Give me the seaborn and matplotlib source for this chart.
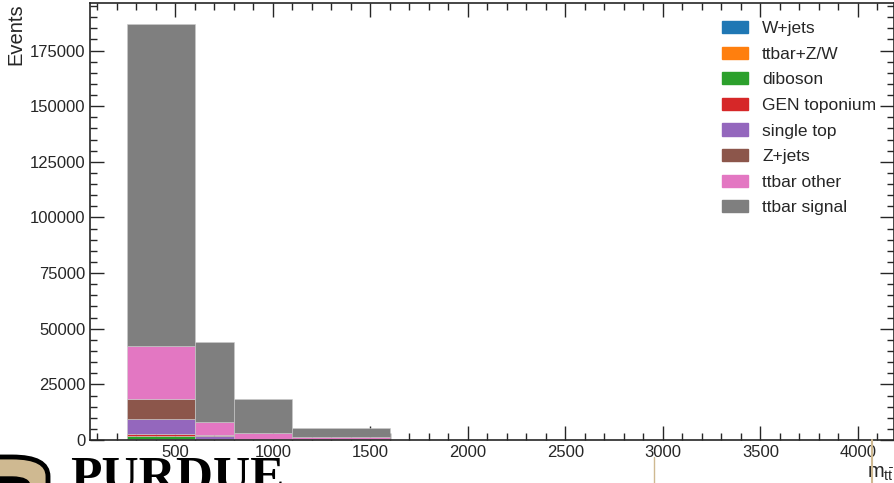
import numpy as np
import pandas as pd
import seaborn as sns
import matplotlib.pyplot as plt
from matplotlib.ticker import MultipleLocator
from matplotlib.lines import Line2D
from matplotlib.patches import FancyBboxPatch

# bin edges of m_tt and per-process yields per bin
bin_edges = [250, 600, 800, 1100, 1600, 4000]
processes = ["W+jets", "ttbar+Z/W", "diboson", "GEN toponium",
             "single top", "Z+jets", "ttbar other", "ttbar signal"]
wjets = [300, 40, 10, 5, 1]
ttbar_zw = [250, 60, 30, 15, 5]
diboson = [1100, 150, 50, 20, 5]
toponium = [900, 100, 20, 5, 1]
single_top = [6700, 1300, 400, 150, 20]
zjets = [9300, 500, 150, 50, 10]
ttbar_other = [23500, 5900, 2600, 1100, 60]
ttbar_signal = [145000, 36000, 15300, 4100, 120]

yields = [wjets, ttbar_zw, diboson, toponium, single_top, zjets, ttbar_other, ttbar_signal]
colors = sns.color_palette("tab10", 8)

centers = [(a + b) / 2 for a, b in zip(bin_edges[:-1], bin_edges[1:])]
rows = []
for proc, vals in zip(processes, yields):
    for c, v in zip(centers, vals):
        rows.append({"mtt": c, "events": v, "process": proc})
df = pd.DataFrame(rows)

sns.set_style("ticks")
plt.rcParams["font.family"] = ["Liberation Sans", "DejaVu Sans"]
plt.rcParams["mathtext.fontset"] = "custom"
plt.rcParams["mathtext.rm"] = "Liberation Sans"
plt.rcParams["mathtext.it"] = "Liberation Sans"

fig = plt.figure(figsize=(8.95, 4.83), dpi=100)
ax = fig.add_axes([0.1006, 0.089, 0.8988, 0.9049])

sns.histplot(data=df, x="mtt", weights="events", hue="process",
             hue_order=processes[::-1], palette=dict(zip(processes, colors)),
             bins=bin_edges, multiple="stack", alpha=1, linewidth=0.4,
             edgecolor="#cccccc", ax=ax)

ax.set_xlim(62.5, 4187.5)
ax.set_ylim(0, 196400)
ax.xaxis.set_major_locator(MultipleLocator(500))
ax.xaxis.set_minor_locator(MultipleLocator(100))
ax.yaxis.set_major_locator(MultipleLocator(25000))
ax.yaxis.set_minor_locator(MultipleLocator(5000))
ax.tick_params(which="both", direction="in", top=True, right=True, labelsize=12)
ax.tick_params(which="major", length=10, width=1)
ax.tick_params(which="minor", length=5, width=1)
for s in ax.spines.values():
    s.set_linewidth(1.2)

ax.set_ylabel("Events", loc="top", fontsize=14.5, labelpad=3)
ax.set_xlabel(r"$m_{t\bar{t}}$", loc="right", fontsize=14.5, labelpad=3)

handles = [plt.Rectangle((0, 0), 1, 1, color=c) for c in colors]
leg = ax.legend(handles, processes, loc="upper right", frameon=False,
                fontsize=12.5, handlelength=1.5, handleheight=0.7,
                labelspacing=0.6, borderaxespad=0.65)

# bits of the Purdue logo peeking in at the bottom
W, H = 895, 483
fig.add_artist(FancyBboxPatch((-40 / W, -30 / H), 88 / W, (30 + 26) / H,
                              boxstyle="round,pad=0,rounding_size=0.04",
                              transform=fig.transFigure, facecolor="#CFB991",
                              edgecolor="black", lw=3.5))
fig.add_artist(FancyBboxPatch((-30 / W, -20 / H), 60 / W, 26 / H,
                              boxstyle="round,pad=0,rounding_size=0.02",
                              transform=fig.transFigure, facecolor="black",
                              edgecolor="black", lw=1))
fig.text(70 / W, -0.017, "PURDUE", fontsize=37, fontweight="bold",
         family="Liberation Serif", color="black", va="baseline")
fig.add_artist(Line2D([654 / W, 654 / W], [0, 1 - 457 / H], color="#CFB991", lw=1))
fig.add_artist(Line2D([872 / W, 872 / W], [0, 1 - 440 / H], color="#CFB991", lw=1.5))

fig.savefig("out.png", dpi=100)
